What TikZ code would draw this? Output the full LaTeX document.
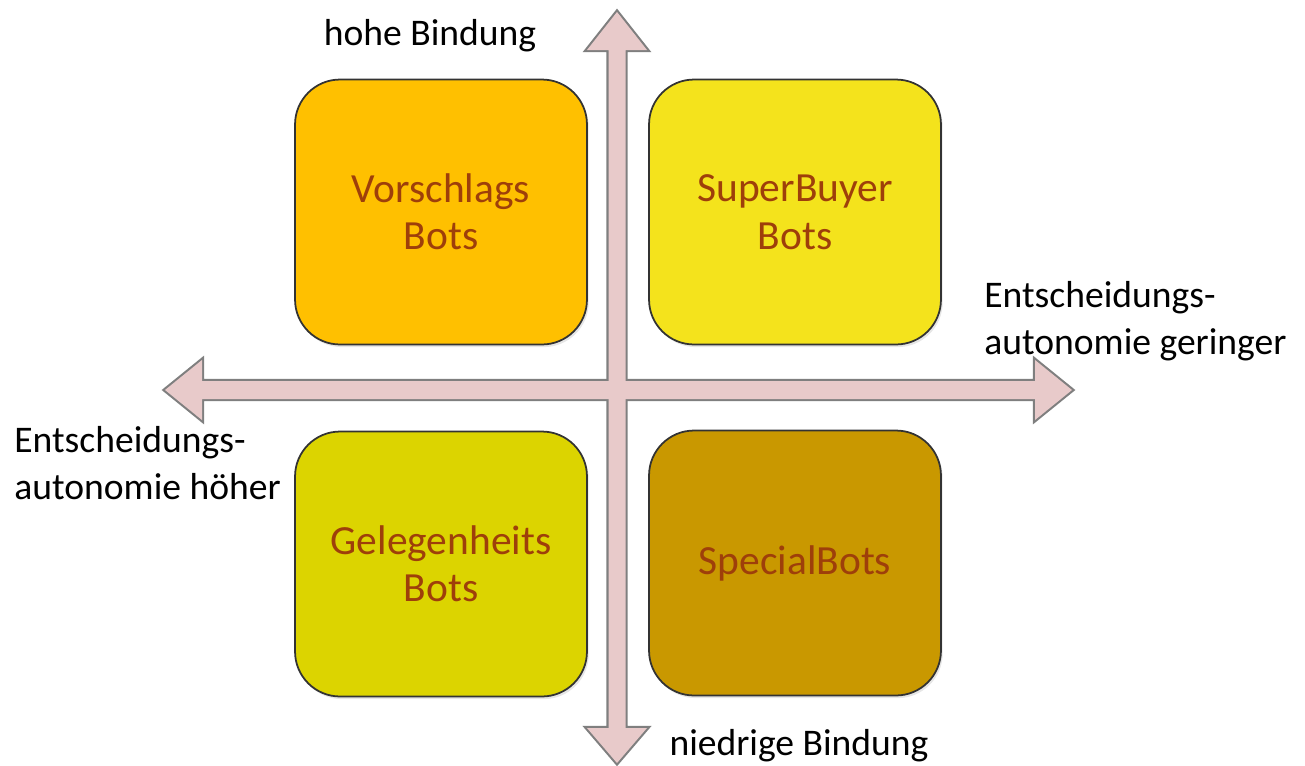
\documentclass[tikz,border=0pt]{standalone}
\usepackage{fontspec}
\setmainfont{Carlito}
\usetikzlibrary{shadows}
\definecolor{pfeilrosa}{HTML}{E8CACA}
\definecolor{pfeilrand}{HTML}{7F7F7F}
\definecolor{orangegelb}{HTML}{FFC000}
\definecolor{hellgelb}{HTML}{F4E31C}
\definecolor{olivgelb}{HTML}{DCD400}
\definecolor{ocker}{HTML}{C99800}
\definecolor{boxtext}{HTML}{9E3F0A}
\begin{document}
\begin{tikzpicture}[x=0.02cm, y=-0.02cm,
    feld/.style={rounded corners=0.9cm, minimum width=5.84cm, minimum height=5.3cm,
      draw=black!80, line width=1pt, text=boxtext, align=center, inner sep=0pt,
      font=\fontsize{23.6}{27}\selectfont,
      drop shadow={opacity=0.2, shadow xshift=1pt, shadow yshift=-1.5pt}},
    achse/.style={font=\fontsize{21.4}{27}\selectfont, align=left, inner sep=0pt}]
  \useasboundingbox (0,0) rectangle (1305,765); %Rahmen
    %Achsenkreuz: erst Rand, dann Fuellung
  \draw[pfeilrand, line width=2.4pt, line join=miter]
    (617,12) -- (647,50) -- (625.5,50) -- (625.5,728) -- (647,728) -- (617,763)
    -- (587,728) -- (608.5,728) -- (608.5,50) -- (587,50) -- cycle; %senkrecht
  \draw[pfeilrand, line width=2.4pt, line join=miter]
    (165,390) -- (202,360) -- (202,381) -- (1035,381) -- (1035,360) -- (1072,390)
    -- (1035,420) -- (1035,399) -- (202,399) -- (202,420) -- cycle; %waagerecht
  \fill[pfeilrosa]
    (617,12) -- (647,50) -- (625.5,50) -- (625.5,728) -- (647,728) -- (617,763)
    -- (587,728) -- (608.5,728) -- (608.5,50) -- (587,50) -- cycle;
  \fill[pfeilrosa]
    (165,390) -- (202,360) -- (202,381) -- (1035,381) -- (1035,360) -- (1072,390)
    -- (1035,420) -- (1035,399) -- (202,399) -- (202,420) -- cycle;
    %Felder
  \node[feld, fill=orangegelb] (vorschlag) at (441,212) {Vorschlags\\Bots};
  \node[feld, fill=hellgelb] (superbuyer) at (795,212) {SuperBuyer\\Bots};
  \node[feld, fill=olivgelb] (gelegenheit) at (441,564) {Gelegenheits\\Bots};
  \node[feld, fill=ocker] (special) at (795,563) {SpecialBots};
    %Beschriftungen
  \node[achse] (hoch) at (430,36) {hohe Bindung};
  \node[achse] (niedrig) at (799,746) {niedrige Bindung};
  \node[achse, anchor=west] (rechts) at (984,321) {Entscheidungs-\\autonomie geringer};
  \node[achse, anchor=west] (links) at (14,463) {Entscheidungs-\\autonomie höher};
\end{tikzpicture}
\end{document}
